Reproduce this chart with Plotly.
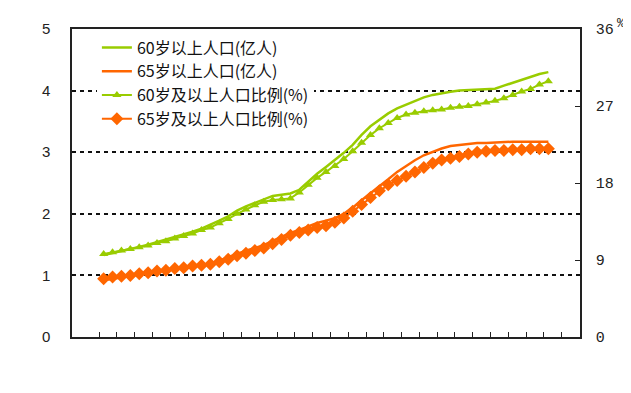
import plotly.graph_objects as go

years = [str(y) for y in range(2000, 2051)]

pop60 = [1.33, 1.36, 1.39, 1.42, 1.46, 1.50, 1.54, 1.58, 1.62, 1.66,
         1.71, 1.76, 1.82, 1.89, 1.96, 2.05, 2.12, 2.18, 2.24, 2.29,
         2.31, 2.33, 2.39, 2.52, 2.65, 2.76, 2.87, 2.99, 3.12, 3.28,
         3.42, 3.53, 3.63, 3.71, 3.77, 3.83, 3.89, 3.93, 3.96, 3.98,
         4.00, 4.01, 4.02, 4.02, 4.03, 4.08, 4.13, 4.18, 4.22, 4.27, 4.30]

pop65 = [0.92, 0.94, 0.96, 0.99, 1.02, 1.04, 1.06, 1.09, 1.11, 1.13,
         1.15, 1.17, 1.19, 1.24, 1.30, 1.35, 1.40, 1.45, 1.49, 1.56,
         1.63, 1.69, 1.74, 1.80, 1.85, 1.89, 1.93, 2.00, 2.10, 2.22,
         2.33, 2.44, 2.56, 2.68, 2.78, 2.87, 2.95, 3.01, 3.06, 3.10,
         3.12, 3.14, 3.15, 3.15, 3.16, 3.16, 3.17, 3.17, 3.17, 3.17, 3.17]

ratio60 = [9.7, 9.9, 10.1, 10.3, 10.5, 10.7, 11.0, 11.2, 11.5, 11.8,
           12.1, 12.5, 12.8, 13.3, 13.8, 14.4, 14.9, 15.4, 15.8, 16.0,
           16.1, 16.2, 16.9, 17.8, 18.6, 19.3, 20.0, 20.8, 21.7, 22.7,
           23.6, 24.4, 25.0, 25.6, 26.0, 26.2, 26.4, 26.5, 26.6, 26.8,
           26.9, 27.0, 27.2, 27.4, 27.6, 27.9, 28.3, 28.7, 29.0, 29.5, 29.9]

ratio65 = [6.8, 7.0, 7.1, 7.2, 7.4, 7.5, 7.7, 7.8, 8.0, 8.1,
           8.3, 8.4, 8.5, 8.8, 9.1, 9.5, 9.8, 10.1, 10.4, 10.9,
           11.4, 11.9, 12.2, 12.5, 12.8, 13.0, 13.4, 13.9, 14.7, 15.5,
           16.3, 17.1, 17.8, 18.3, 18.8, 19.3, 19.8, 20.3, 20.7, 20.9,
           21.1, 21.4, 21.6, 21.7, 21.8, 21.8, 21.9, 21.9, 22.0, 22.0, 22.0]

left_ticks = [0, 1, 2, 3, 4, 5]
right_ticks = [0, 9, 18, 27, 36]

names = ["60岁以上人口(亿人)", "65岁以上人口(亿人)",
         "60岁及以上人口比例(%)", "65岁及以上人口比例(%)"]

GREEN = "#99CC00"
ORANGE = "#FF6600"

fig = go.Figure()
fig.add_trace(go.Scatter(x=years, y=pop60, name=names[0], mode="lines",
                         line=dict(color=GREEN, width=2.5), legendgroup="a"))
fig.add_trace(go.Scatter(x=years, y=pop65, name=names[1], mode="lines",
                         line=dict(color=ORANGE, width=2.5), legendgroup="b"))
fig.add_trace(go.Scatter(x=years, y=ratio60, name=names[2], mode="lines+markers",
                         line=dict(color=GREEN, width=2),
                         marker=dict(symbol="triangle-up", size=8, color=GREEN),
                         yaxis="y2", legendgroup="c"))
fig.add_trace(go.Scatter(x=years, y=ratio65, name=names[3], mode="lines+markers",
                         line=dict(color=ORANGE, width=2),
                         marker=dict(symbol="diamond", size=10, color=ORANGE),
                         yaxis="y2", legendgroup="d"))

fig.update_layout(
    width=623, height=385,
    margin=dict(l=64, r=51, t=14, b=56),
    paper_bgcolor="white", plot_bgcolor="white",
    showlegend=True,
    legend=dict(x=0.049, y=0.995, xanchor="left", yanchor="top",
                bgcolor="white", borderwidth=0,
                font=dict(family="Noto Sans CJK SC", size=16, color="#111"),
                tracegroupgap=0, itemwidth=30),
    xaxis=dict(type="category", showticklabels=False, showgrid=False,
               showline=True, linecolor="#222", linewidth=1.5, mirror=True,
               ticks="inside", ticklen=5, tickcolor="#222", tickwidth=1,
               tickson="boundaries", zeroline=False),
    yaxis=dict(range=[0, 5], tickvals=left_ticks, showline=True,
               linecolor="#222", linewidth=1.5,
               showgrid=True, gridcolor="#111", gridwidth=1.5, griddash="4px,4px",
               ticks="", ticklabelstandoff=17, zeroline=False,
               tickfont=dict(family="Liberation Sans", size=15, color="#222")),
    yaxis2=dict(range=[0, 36], tickvals=right_ticks, overlaying="y", side="right",
                showline=True, linecolor="#222", linewidth=1.5, showgrid=False,
                ticks="inside", ticklen=5, tickcolor="#222", ticklabelstandoff=11,
                zeroline=False,
                tickfont=dict(family="Liberation Mono", size=15, color="#222")),
    annotations=[dict(text="%", x=1.08, y=1.017, xref="paper", yref="paper",
                      showarrow=False, xanchor="center", yanchor="middle",
                      font=dict(family="Liberation Mono", size=13, color="#222"))],
)

fig.write_html("out.html")
